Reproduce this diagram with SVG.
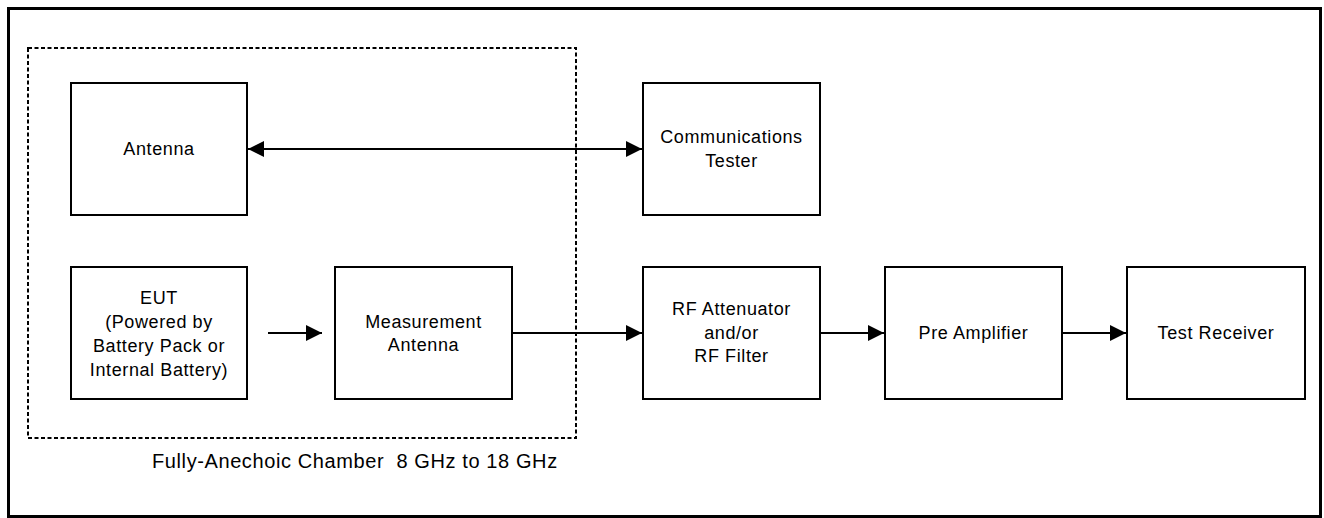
<svg xmlns="http://www.w3.org/2000/svg" width="1324" height="518" viewBox="0 0 1324 518">
<style>
.box{fill:#fff;stroke:#000;stroke-width:2}
.lbl{font-family:"Liberation Sans",Arial,sans-serif;font-size:18px;letter-spacing:0.6px;fill:#000;text-anchor:middle}
.cap{font-family:"Liberation Sans",Arial,sans-serif;font-size:20px;letter-spacing:0.6px;fill:#000;white-space:pre}
.conn{fill:none;stroke:#000;stroke-width:2}
</style>
<defs>
<marker id="ah" viewBox="0 0 16 16" refX="16" refY="8" markerWidth="16" markerHeight="16" markerUnits="userSpaceOnUse" orient="auto-start-reverse">
<path d="M0,0 L16,8 L0,16 Z" fill="#000"/>
</marker>
</defs>
<rect x="0" y="0" width="1324" height="518" fill="#fff"/>
<rect id="frame" x="8.5" y="8.5" width="1312" height="508" fill="none" stroke="#000" stroke-width="3"/>
<g id="chamber">
<rect x="28" y="48" width="548" height="390" fill="none" stroke="#000" stroke-width="2" stroke-dasharray="4 2.5"/>
<text class="cap" x="152" y="468" xml:space="preserve">Fully-Anechoic Chamber  8 GHz to 18 GHz</text>
</g>
<g id="connectors">
<line class="conn" x1="248" y1="149" x2="642" y2="149" marker-start="url(#ah)" marker-end="url(#ah)"/>
<line class="conn" x1="268" y1="333" x2="322" y2="333" marker-end="url(#ah)"/>
<line class="conn" x1="512" y1="333" x2="642" y2="333" marker-end="url(#ah)"/>
<line class="conn" x1="820" y1="333" x2="884" y2="333" marker-end="url(#ah)"/>
<line class="conn" x1="1062" y1="333" x2="1126" y2="333" marker-end="url(#ah)"/>
</g>
<g id="antenna">
<rect class="box" x="71" y="83" width="176" height="132"/>
<text class="lbl" x="159" y="155">Antenna</text>
</g>
<g id="comm-tester">
<rect class="box" x="643" y="83" width="177" height="132"/>
<text class="lbl" x="731.5" y="143">Communications</text>
<text class="lbl" x="731.5" y="166.5">Tester</text>
</g>
<g id="eut">
<rect class="box" x="71" y="267" width="176" height="132"/>
<text class="lbl" x="159" y="304">EUT</text>
<text class="lbl" x="159" y="328">(Powered by</text>
<text class="lbl" x="159" y="352">Battery Pack or</text>
<text class="lbl" x="159" y="376">Internal Battery)</text>
</g>
<g id="measurement-antenna">
<rect class="box" x="335" y="267" width="177" height="132"/>
<text class="lbl" x="423.5" y="327.5">Measurement</text>
<text class="lbl" x="423.5" y="351">Antenna</text>
</g>
<g id="rf-attenuator">
<rect class="box" x="643" y="267" width="177" height="132"/>
<text class="lbl" x="731.5" y="315">RF Attenuator</text>
<text class="lbl" x="731.5" y="338.5">and/or</text>
<text class="lbl" x="731.5" y="362">RF Filter</text>
</g>
<g id="pre-amplifier">
<rect class="box" x="885" y="267" width="177" height="132"/>
<text class="lbl" x="973.5" y="339">Pre Amplifier</text>
</g>
<g id="test-receiver">
<rect class="box" x="1127" y="267" width="178" height="132"/>
<text class="lbl" x="1216" y="339">Test Receiver</text>
</g>
</svg>
